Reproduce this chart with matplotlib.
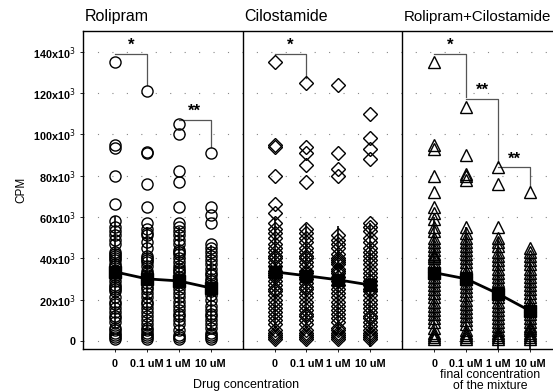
import matplotlib
matplotlib.use("Agg")
import matplotlib.pyplot as plt

plt.rcParams["font.family"] = ["Liberation Sans", "DejaVu Sans"]

# x positions: three groups of four concentrations, one gap column between panels
positions = [[0, 1, 2, 3], [5, 6, 7, 8], [10, 11, 12, 13]]
panel_titles = ["Rolipram", "Cilostamide", "Rolipram+Cilostamide"]
panel_markers = ["o", "D", "^"]
conc_labels = ["0", "0.1 uM", "1 uM", "10 uM"]

# individual CPM values, in thousands
rolipram = [
    [135, 95, 93.5, 80, 66, 58, 55, 53, 51, 49, 47, 43, 42, 41, 40, 39, 37, 36, 34, 33,
     32, 31, 29, 27, 26, 25, 24, 21, 19, 18, 16, 14, 12, 11, 9, 6, 5, 4, 3, 2, 1],
    [121, 91, 91.5, 76, 65, 57, 54, 52, 51, 48, 45, 41, 40, 39, 38, 36, 34, 33, 32, 31,
     30, 28, 26, 25, 23, 21, 19, 18, 16, 14, 12, 10, 8, 6, 5, 4, 3, 2, 1],
    [105, 100, 82, 77, 65, 57, 55, 53, 51, 49, 47, 44, 43, 42, 40, 38, 36, 35, 34, 33,
     31, 30, 29, 27, 25, 23, 21, 19, 17, 15, 13, 12, 10, 8, 5, 3, 2, 1],
    [91, 65, 61, 57, 47, 45, 43, 41, 39, 37, 35, 33, 32, 30, 29, 27, 25, 24, 22, 20,
     17, 15, 13, 12, 10, 8, 6, 4, 3, 2, 1],
]
cilostamide = [
    [135, 95, 94, 80, 66, 62, 57, 54, 52, 50, 47, 45, 43, 41, 40, 38, 36, 34, 33, 32,
     31, 29, 27, 25, 24, 22, 20, 18, 16, 14, 12, 10, 8, 5, 4, 3, 2, 1],
    [125, 94, 91, 85, 77, 54, 52, 50, 48, 45, 43, 41, 40, 38, 36, 34, 33, 31, 30, 28,
     26, 25, 23, 21, 19, 17, 15, 13, 12, 10, 8, 5, 4, 3, 2, 1],
    [124, 91, 83, 80, 51, 49, 47, 45, 42, 40, 39, 38, 37, 35, 34, 33, 31, 29, 27, 25,
     23, 21, 19, 17, 15, 13, 11, 9, 6, 5, 4, 3, 2, 1],
    [110, 98, 93, 88, 57, 55, 53, 50, 48, 45, 43, 41, 39, 37, 35, 33, 31, 29, 27, 25,
     24, 22, 20, 18, 16, 14, 12, 11, 9, 7, 5, 4, 3, 2, 1],
]
combined = [
    [135, 95, 93, 80, 72, 65, 62, 59, 55, 53, 50, 48, 46, 44, 42, 41, 40, 38, 36, 34,
     33, 31, 29, 27, 25, 23, 21, 19, 17, 15, 13, 11, 9, 6, 4, 3, 2, 1],
    [113, 90, 81, 80, 78, 55, 52, 50, 48, 46, 44, 42, 40, 38, 36, 34, 32, 30, 28, 26,
     24, 22, 20, 18, 16, 14, 12, 10, 8, 5, 4, 3, 2, 1],
    [84, 76, 55, 50, 48, 46, 43, 41, 39, 37, 35, 33, 31, 29, 27, 25, 23, 21, 19, 17,
     15, 13, 11, 9, 7, 5, 4, 3, 2, 1],
    [72, 45, 43, 41, 39, 37, 35, 33, 31, 29, 27, 25, 23, 21, 19, 17, 15, 13, 11, 9,
     7, 6, 5, 4, 3, 2, 1],
]
groups = [rolipram, cilostamide, combined]

# group means and SD (thousands)
means = [[33.4, 30.0, 29.0, 25.6], [33.4, 31.5, 29.5, 27.0], [33.0, 30.0, 22.8, 14.5]]
sds = [[27, 25, 26, 21], [26, 25, 26, 30], [27, 25, 27, 26]]

# significance brackets: (x_start, x_end, y_top, y_drop, label)
brackets = [
    (0, 1, 139, 124, "*"), (2, 3, 107, 94, "**"),
    (5, 6, 139, 127, "*"),
    (10, 11, 139, 118, "*"), (11, 12, 117, 86, "**"), (12, 13, 84, 75, "**"),
]

fig = plt.figure(figsize=(5.53, 3.92), dpi=100)
ax = fig.add_axes([0.150, 0.110, 0.850, 0.811])

msize = {"o": 8, "D": 7.5, "^": 8.5}
for xs, grp, mk, mu, sd in zip(positions, groups, panel_markers, means, sds):
    for x, vals in zip(xs, grp):
        ax.plot([x] * len(vals), [v * 1000 for v in vals], linestyle="none", marker=mk,
                markersize=msize[mk], markerfacecolor="none",
                markeredgecolor="black", markeredgewidth=1.0, zorder=3)
    ax.errorbar(xs, [m * 1000 for m in mu], yerr=[s * 1000 for s in sd], color="black",
                lw=2.0, elinewidth=1.2, capsize=0, marker="s", markersize=8, zorder=4)

for x0, x1, ytop, ydrop, lab in brackets:
    ax.plot([x0, x1, x1], [ytop * 1000, ytop * 1000, ydrop * 1000], color="#555555",
            lw=0.9, zorder=2)
    ax.text((x0 + x1) / 2, ytop * 1000 + 500, lab, ha="center", va="bottom",
            fontsize=12, fontweight="bold")

# panel separators
for xv in (4, 9):
    ax.axvline(xv, color="black", lw=1.0)

ax.set_xlim(-1, 13.72)
ax.set_ylim(-3900, 150000)
ax.set_xticks([x for xs in positions for x in xs])
ax.set_xticklabels(conc_labels * 3, fontsize=7.8, fontweight="bold")
yt = list(range(0, 140001, 20000))
ax.set_yticks(yt)
ax.set_yticklabels(["0"] + [f"{v // 1000}x10$^3$" for v in yt[1:]], fontsize=7.8,
                   fontweight="bold")
ax.tick_params(axis="both", length=2, width=0.6, pad=3)
ax.tick_params(axis="x", pad=5)
ax.grid(axis="y", color="#888888", linestyle=(0, (1, 12)), lw=0.8)
ax.set_axisbelow(True)
for s in ["top", "bottom", "left"]:
    ax.spines[s].set_linewidth(1.0)
ax.spines["right"].set_visible(False)

ax.set_ylabel("CPM", fontsize=8.5, labelpad=4)
for xs, t in zip(positions, panel_titles):
    ax.text(xs[0] - 0.95, 153500, t, fontsize=11.5 if len(t) < 15 else 10.8,
            ha="left", va="bottom")
ax.text(4.1, -18500, "Drug concentration", fontsize=9, ha="center", va="top")
ax.text(11.75, -13600, "final concentration\nof the mixture", fontsize=8.8,
        ha="center", va="top", linespacing=0.92)

fig.savefig("out.png", dpi=100)
